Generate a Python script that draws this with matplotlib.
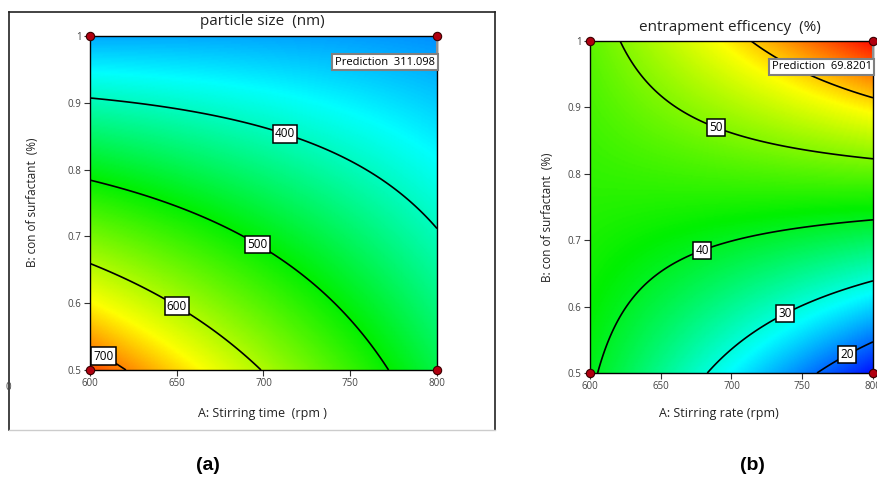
import numpy as np
import matplotlib.pyplot as plt
from matplotlib.colors import LinearSegmentedColormap
from matplotlib.lines import Line2D

# factor ranges (actual units)
stir_range = [600, 800]
surf_range = [0.5, 1.0]
x_ticks = [600, 650, 700, 750, 800]
y_ticks = [0.5, 0.6, 0.7, 0.8, 0.9, 1.0]
y_tick_labels = ["0.5", "0.6", "0.7", "0.8", "0.9", "1"]

# quadratic models in coded units: const, A, B, AB, A^2, B^2
size_coef = [463.1, -69.5, -138.0, 63.0, -5.0, -3.0]
ee_coef = [43.15, -1.05, 15.35, 11.85, 0.0, 0.0]

size_levels = [400, 500, 600, 700]
ee_levels = [20, 30, 40, 50, 60]
ee_labelled = [20, 30, 40, 50]

size_pred = "311.098"
ee_pred = "69.8201"

# design corner points
corner_x = [600, 600, 800, 800]
corner_y = [0.5, 1.0, 0.5, 1.0]


def surface(coef, x, y):
    a = (x - 700) / 100
    b = (y - 0.75) / 0.25
    return (coef[0] + coef[1] * a + coef[2] * b + coef[3] * a * b
            + coef[4] * a ** 2 + coef[5] * b ** 2)


rainbow = LinearSegmentedColormap.from_list(
    "de", [(0.0, "#0000ff"), (0.25, "#00ffff"), (0.5, "#00f000"),
           (0.78, "#ffff00"), (1.0, "#ff0000")])

plt.rcParams["font.family"] = ["Open Sans", "DejaVu Sans"]

fig = plt.figure(figsize=(8.77, 4.90), dpi=100)
ax1 = fig.add_axes([0.1026, 0.2449, 0.3957, 0.6816])
ax2 = fig.add_axes([0.6727, 0.2388, 0.3227, 0.6775])

xg = np.linspace(stir_range[0], stir_range[1], 250)
yg = np.linspace(surf_range[0], surf_range[1], 250)
X, Y = np.meshgrid(xg, yg)


def draw_panel(ax, coef, vmin, vmax, levels, lab_levels, lab_pos, title,
               xlabel, pred, title_xy, xlabel_xy, ylabel_xy):
    Z = surface(coef, X, Y)
    ax.pcolormesh(X, Y, Z, cmap=rainbow, vmin=vmin, vmax=vmax,
                  shading="gouraud", rasterized=True)
    cs = ax.contour(X, Y, Z, levels=levels, colors="black", linewidths=1.2)
    texts = ax.clabel(cs, levels=lab_levels, manual=lab_pos, inline=False,
                      fmt="%d", fontsize=8.5)
    for t in texts:
        t.set_rotation(0)
        t.set_color("black")
        t.set_bbox(dict(boxstyle="square,pad=0.18", fc="white",
                        ec="black", lw=1.1))
    ax.plot(corner_x, corner_y, "o", ms=6, mfc="#b00010", mec="#3a0000",
            mew=0.8, clip_on=False, zorder=6)
    ax.set_xlim(stir_range)
    ax.set_ylim(surf_range)
    ax.set_xticks(x_ticks)
    ax.set_yticks(y_ticks)
    ax.set_yticklabels(y_tick_labels)
    ax.tick_params(direction="out", length=4, width=0.8, color="#333333",
                   labelsize=7, labelcolor="#444444", pad=2)
    for s in ax.spines.values():
        s.set_linewidth(1.0)
        s.set_color("black")
    ax.text(title_xy[0], title_xy[1], title, transform=ax.transAxes,
            ha="center", va="center", fontsize=11, color="#222222")
    ax.set_xlabel(xlabel, fontsize=9, color="#222222")
    ax.xaxis.set_label_coords(*xlabel_xy)
    ax.set_ylabel("B: con of surfactant  (%)", fontsize=8.5, color="#222222")
    ax.yaxis.set_label_coords(*ylabel_xy)
    # prediction flag
    ax.plot([800, 800], [1.0, 0.975], color="#909090", lw=1.5,
            clip_on=False, zorder=5)
    ax.text(799, 0.961, "Prediction  " + pred, ha="right", va="center",
            fontsize=8, color="black", zorder=7,
            bbox=dict(boxstyle="square,pad=0.25", fc="white",
                      ec="#808080", lw=1.5))


draw_panel(ax1, size_coef, 236, 760, size_levels, size_levels,
           [(712, 0.85), (697, 0.69), (651, 0.60), (610, 0.53)],
           "particle size  (nm)", "A: Stirring time  (rpm )", size_pred,
           (0.496, 1.042), (0.496, -0.111), (-0.147, 0.503))

draw_panel(ax2, ee_coef, 14, 70, ee_levels, ee_labelled,
           [(779, 0.539), (736, 0.598), (678, 0.693), (690, 0.875)],
           "entrapment efficency  (%)", "A: Stirring rate (rpm)", ee_pred,
           (0.495, 1.04), (0.456, -0.102), (-0.127, 0.47))

# frame around panel (a)
fl, fr, ft, fb = 9 / 877, 495 / 877, 1 - 12 / 490, 1 - 430 / 490
fig.add_artist(Line2D([fl, fr], [ft, ft], color="#222222", lw=1.2))
fig.add_artist(Line2D([fl, fl], [ft, fb], color="#222222", lw=1.2))
fig.add_artist(Line2D([fr, fr], [ft, fb], color="#222222", lw=1.2))
fig.add_artist(Line2D([fl, fr], [fb, fb], color="#cccccc", lw=1.0))
fig.text(0.009, 1 - 387 / 490, "0", fontsize=7, color="#444444",
         ha="center", va="center")

fig.text(208 / 877, 1 - 465 / 490, "(a)", fontsize=14, fontweight="bold",
         family="Liberation Sans", ha="center", va="center")
fig.text(752 / 877, 1 - 465 / 490, "(b)", fontsize=14, fontweight="bold",
         family="Liberation Sans", ha="center", va="center")

fig.savefig("out.png", dpi=100)
